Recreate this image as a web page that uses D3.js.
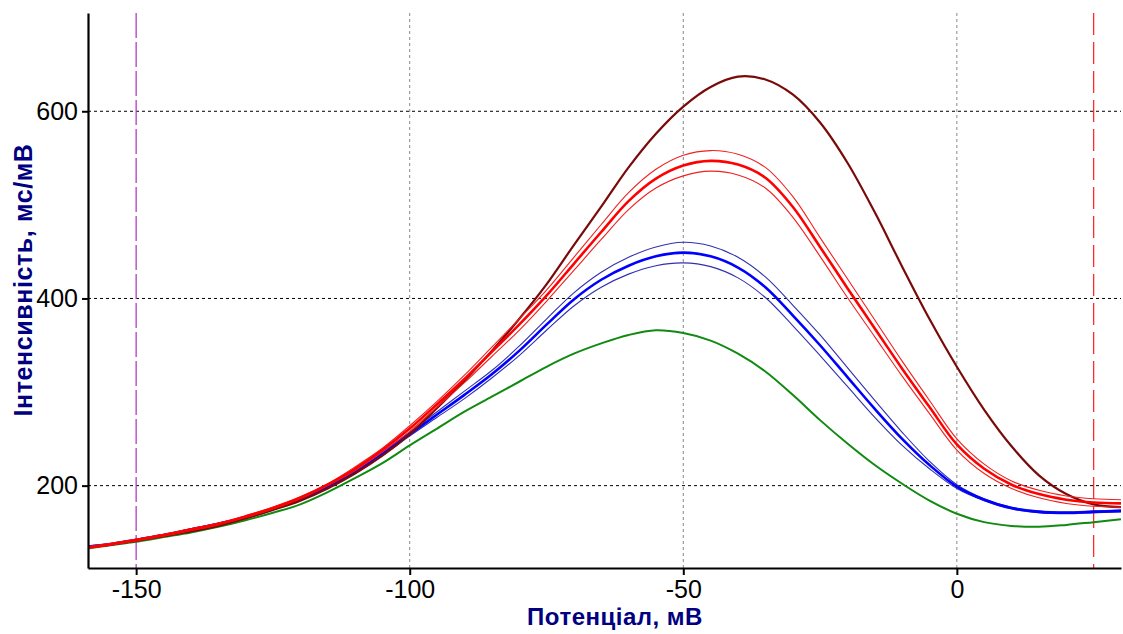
<!DOCTYPE html>
<html>
<head>
<meta charset="utf-8">
<script src="https://cdn.jsdelivr.net/npm/d3@7/dist/d3.min.js"></script>
<style>
  html, body { margin: 0; padding: 0; background: #fff; }
  svg { display: block; }
</style>
</head>
<body>
<div id="chart"></div>
<script>
// ---- Data ----
const potential = [-160,-155,-150,-145,-140,-135,-130,-125,-120,-115,-110,-105,-100,-95,-90,-85,-80,-75,-70,-65,-60,-55,-50,-45,-40,-35,-30,-25,-20,-15,-10,-5,0,5,10,15,20,25,30];

const maroonSeries = [133,137,141,146,151,157,165,174,184,197,213,232,255,283,312,344,378,415,457,498,540,576,605,626,637,634,618,588,545,492,434,378,327,281,242,211,191,180,177];

const redSeries = [133,137,142,147,153,159,167,176,187,201,218,238,261,287,314,343,372,403,437,471,504,528,542,547,543,529,498,455,411,368,325,284,244,218,201,191,185,182,181];
const redUpper  = [134,138,143,148,154,160,168,177,188,202,220,240,264,290,318,348,378,409,444,479,513,538,553,558,554,540,509,465,421,377,333,291,250,223,205,195,189,186,185];
const redLower  = [132,136,141,146,152,158,166,175,186,200,216,236,258,284,310,338,366,397,430,463,495,518,531,536,532,518,487,445,401,359,317,277,238,213,197,187,181,178,177];

const blueSeries = [134,137,142,147,153,159,166,175,186,199,215,234,255,276,297,319,344,372,399,420,435,445,449,445,433,412,382,350,316,282,250,222,199,185,176,172,171,172,173];
const blueUpper  = [135,138,143,148,154,160,167,176,187,200,217,236,257,279,301,323,349,378,406,428,444,455,460,456,444,423,393,361,326,291,257,226,201,186,177,173,172,173,174];
const blueLower  = [133,136,141,146,152,158,165,174,185,198,213,232,253,273,293,315,339,366,392,412,426,435,438,434,422,401,371,339,306,273,243,218,197,184,175,171,170,171,172];

const greenSeries = [132,136,140,145,150,156,163,171,180,193,208,224,243,261,279,295,311,327,341,352,361,366,363,355,341,322,297,270,245,222,202,184,170,161,157,156,158,161,164];

const yTicks = [200, 400, 600];
const xTicks = [-150, -100, -50, 0];
const markerLeft = -150;
const markerRight = 25;
const xLabel = "Потенціал, мВ";
const yLabel = "Інтенсивність, мс/мВ";

// ---- Layout ----
const W = 1123, H = 634;
const plot = { left: 88, right: 1121, top: 13, bottom: 568 };

const x = d3.scaleLinear().domain([-158.8, 30]).range([plot.left, plot.right]);
const y = d3.scaleLinear().domain([112, 705]).range([plot.bottom, plot.top]);

const FONT = "'Liberation Sans', Arial, sans-serif";

const svg = d3.select("#chart").append("svg")
  .attr("width", W).attr("height", H)
  .style("font-family", FONT);

svg.append("defs").append("clipPath").attr("id", "clip")
  .append("rect")
  .attr("x", plot.left).attr("y", plot.top)
  .attr("width", plot.right - plot.left).attr("height", plot.bottom - plot.top);

// Grid
const grid = svg.append("g");
grid.selectAll("line.hg").data(yTicks).join("line")
  .attr("x1", plot.left).attr("x2", plot.right)
  .attr("y1", d => y(d)).attr("y2", d => y(d))
  .attr("stroke", "#000").attr("stroke-width", 1)
  .attr("stroke-dasharray", "3,3");
grid.selectAll("line.vg").data(xTicks.filter(d => d !== markerLeft)).join("line")
  .attr("x1", d => x(d)).attr("x2", d => x(d))
  .attr("y1", plot.top).attr("y2", plot.bottom)
  .attr("stroke", "#888").attr("stroke-width", 1)
  .attr("stroke-dasharray", "3,3");

// Marker lines
svg.append("line")
  .attr("x1", x(markerLeft)).attr("x2", x(markerLeft))
  .attr("y1", plot.top).attr("y2", plot.bottom)
  .attr("stroke", "#b040c0").attr("stroke-width", 1.3)
  .attr("stroke-dasharray", "25,4");
svg.append("line")
  .attr("x1", x(markerRight)).attr("x2", x(markerRight))
  .attr("y1", plot.top).attr("y2", plot.bottom)
  .attr("stroke", "#ff2a2a").attr("stroke-width", 1.3)
  .attr("stroke-dasharray", "22,7");

// Curves
const line = d3.line()
  .x((d, i) => x(potential[i]))
  .y(d => y(d))
  .curve(d3.curveCatmullRom.alpha(0.5));

const curves = svg.append("g").attr("clip-path", "url(#clip)");
const series = [
  { data: greenSeries, color: "#108a10", w: 2 },
  { data: blueUpper, color: "#3030b0", w: 1.1 },
  { data: blueLower, color: "#3030b0", w: 1.1 },
  { data: blueSeries, color: "#0000ff", w: 2.6 },
  { data: maroonSeries, color: "#7a0a0a", w: 2.2 },
  { data: redUpper, color: "#f02020", w: 1.1 },
  { data: redLower, color: "#f02020", w: 1.1 },
  { data: redSeries, color: "#ff0000", w: 2.6 }
];
curves.selectAll("path").data(series).join("path")
  .attr("d", d => line(d.data))
  .attr("fill", "none")
  .attr("stroke", d => d.color)
  .attr("stroke-width", d => d.w)
  .attr("stroke-linejoin", "round");

// Axes
const xAxis = d3.axisBottom(x).tickValues(xTicks).tickSize(7).tickSizeOuter(0);
const gx = svg.append("g").attr("transform", `translate(0,${plot.bottom})`).call(xAxis);
gx.attr("font-family", FONT).attr("font-size", 25);
gx.select(".domain").attr("stroke", "#000").attr("stroke-width", 2.2);
gx.selectAll(".tick line").attr("stroke", "#000").attr("stroke-width", 2);
gx.selectAll(".tick text").attr("fill", "#000").attr("y", 12).attr("dy", "0.71em")
  .text(d => d < 0 ? "-" + Math.abs(d) : String(d));

const yAxis = d3.axisLeft(y).tickValues(yTicks).tickSize(6).tickSizeOuter(0);
const gy = svg.append("g").attr("transform", `translate(${plot.left},0)`).call(yAxis);
gy.attr("font-family", FONT).attr("font-size", 25);
gy.select(".domain").attr("stroke", "#000").attr("stroke-width", 2.2);
gy.selectAll(".tick line").attr("stroke", "#000").attr("stroke-width", 2);
gy.selectAll(".tick text").attr("fill", "#000").attr("x", -10);

// Axis titles
svg.append("text")
  .attr("x", 615).attr("y", 625)
  .attr("text-anchor", "middle")
  .attr("font-size", 24).attr("font-weight", "bold").attr("fill", "#000080")
  .attr("letter-spacing", 0.5)
  .text(xLabel);
svg.append("text")
  .attr("transform", `translate(32,${280}) rotate(-90)`)
  .attr("text-anchor", "middle")
  .attr("font-size", 25).attr("font-weight", "bold").attr("fill", "#000080")
  .attr("letter-spacing", 0.6)
  .text(yLabel);
</script>
</body>
</html>
